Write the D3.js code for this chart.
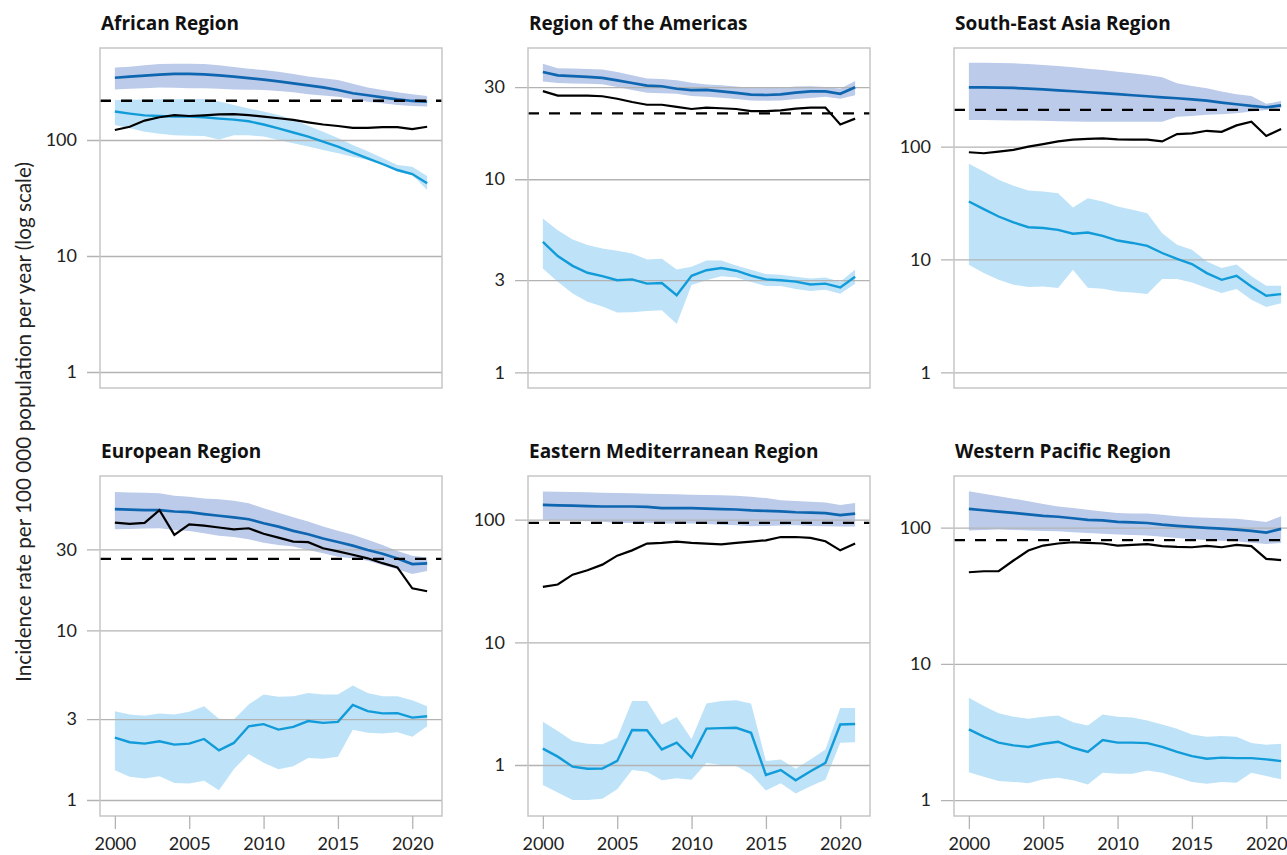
<!DOCTYPE html>
<html>
<head>
<meta charset="utf-8">
<script src="https://d3js.org/d3.v7.min.js"></script>
<style>
body { margin: 0; background: #fff; }
text { font-family: Lato, "Noto Sans", sans-serif; }
text.panel-title { font-family: "Open Sans", "Noto Sans", sans-serif; font-weight: bold; }
</style>
</head>
<body>
<svg id="chart" width="1287" height="855"></svg>
<script>
const years = [2000,2001,2002,2003,2004,2005,2006,2007,2008,2009,2010,2011,2012,2013,2014,2015,2016,2017,2018,2019,2020,2021];

// African Region
const afrInc    = [344,352,359,366,371,371,368,361,352,342,331,320,308,296,284,270,253,243,233,224,217,214];
const afrIncHi  = [421,428,440,452,455,455,452,440,425,412,401,388,370,352,340,329,305,284,270,258,248,239];
const afrIncLo  = [273,276,280,284,282,280,279,276,273,271,270,265,258,248,242,236,226,214,207,200,196,194];
const afrNotif  = [122,130,147,157,164,161,163,166,167,164,159,154,149,142,136,132,127,127,129,129,124,130];
const afrHiv    = [176,169,163,161,159,159,157,153,150,145,136,126,116,107,96.7,87.7,77.8,69.5,62.1,55.1,50.9,42.3];
const afrHivHi  = [221,222,223,224,225,226,226,215,200,187,176,164,150,133,118,104,90.5,80,70,60.9,58.9,49];
const afrHivLo  = [135,126,118,113,110,109,108,101,110,110,107,100,93.6,87.7,82,76.7,71.8,67.2,60.9,53.3,49.9,37.1];
const afrMilestone = 218;

// Region of the Americas
const amrInc    = [35.9,34.5,34.2,33.9,33.5,32.5,31.5,30.5,30.3,29.4,28.9,29.0,28.5,28.0,27.4,27.3,27.5,28.1,28.5,28.5,27.7,29.9];
const amrIncHi  = [39.6,37.6,37.4,37.2,37.0,35.9,34.5,33.2,33.0,32.5,31.6,30.9,30.7,30.2,29.8,29.7,29.8,30.2,30.3,30.0,29.4,32.3];
const amrIncLo  = [32.1,31.5,31.3,31.2,31.0,30.0,29.0,28.0,27.9,27.7,27.0,26.7,26.4,26.0,25.6,25.5,25.6,26.0,26.3,26.7,26.1,27.2];
const amrNotif  = [28.6,27.1,27.1,27.1,26.9,26.1,25.1,24.3,24.3,23.7,23.1,23.5,23.3,23.1,22.5,22.5,22.7,23.2,23.5,23.5,19.2,20.6];
const amrHiv    = [4.74,4.0,3.56,3.28,3.15,3.0,3.03,2.88,2.9,2.51,3.16,3.38,3.47,3.36,3.17,3.03,3.0,2.95,2.85,2.88,2.75,3.13];
const amrHivHi  = [6.27,5.45,4.87,4.56,4.38,4.26,4.13,3.84,3.87,3.41,3.52,3.8,3.8,3.58,3.4,3.23,3.2,3.13,3.06,3.1,2.95,3.41];
const amrHivLo  = [3.45,2.95,2.56,2.32,2.19,2.04,2.05,2.08,2.10,1.78,2.83,3.0,3.15,3.1,2.94,2.8,2.8,2.70,2.64,2.68,2.55,2.88];
const amrMilestone = 21.9;

// South-East Asia Region
const searInc   = [335,335,333,331,326,321,315,309,303,297,291,285,279,273,268,262,255,245,237,229,223,232];
const searIncHi = [553,553,550,546,539,528,518,504,490,477,461,446,431,411,363,344,328,307,291,281,239,253];
const searIncLo = [172,172,171,170,170,169,168,167,166,166,166,166,166,166,184,187,191,193,197,204,211,218];
const searNotif = [89.1,87.3,90.3,93.4,100,105,111,115,117,118,116,115,115,111,129,131,138,135,154,166,124,143];
const searHiv   = [32.6,27.9,24.0,21.3,19.3,19.0,18.3,16.9,17.3,16.2,14.7,14.0,13.2,11.4,10.1,9.1,7.57,6.6,7.17,5.77,4.77,4.93];
const searHivHi = [70.3,60.1,50.7,44.9,40.8,40.0,38.6,28.9,34.9,32.6,29.4,27.5,25.7,17.1,13.5,12.2,9.6,8.4,9.0,7.08,5.85,5.85];
const searHivLo = [8.98,7.57,6.6,5.97,5.69,5.77,5.57,8.1,5.6,5.5,5.2,5.1,4.93,6.7,6.7,6.26,5.57,5.03,5.47,4.4,3.79,4.1];
const searMilestone = 211;

// European Region
const eurInc    = [51.8,51.5,51.2,51.2,50.2,49.8,48.5,47.4,46.4,45.2,42.8,40.9,38.6,36.9,34.8,33.2,31.6,29.8,28.3,26.5,24.6,24.8];
const eurIncHi  = [65.5,65.0,64.7,64.3,62.2,61.3,60.0,59.2,58.2,56.1,52.5,49.4,46.4,43.8,40.9,38.7,36.6,34.2,31.9,29.4,27.5,26.9];
const eurIncLo  = [39.4,39.6,39.8,40.0,39.1,38.6,37.4,36.1,35.5,34.4,32.9,31.9,31.2,29.8,28.5,27.2,26.6,25.7,24.3,22.9,21.5,22.4];
const eurNotif  = [43.2,42.4,43.0,51.2,36.6,42.2,41.5,40.4,39.4,40.0,37.1,35.2,33.4,33.1,30.5,29.2,27.9,26.6,24.9,23.5,17.7,17.0];
const eurHiv    = [2.33,2.19,2.15,2.22,2.12,2.15,2.29,1.96,2.17,2.72,2.80,2.6,2.7,2.92,2.85,2.89,3.64,3.34,3.24,3.25,3.06,3.12];
const eurHivHi  = [3.34,3.19,3.14,3.24,3.19,3.31,3.57,3.01,2.98,3.66,4.19,4.06,4.09,4.27,4.19,4.19,4.74,4.27,4.09,4.09,3.87,3.57];
const eurHivLo  = [1.50,1.37,1.34,1.38,1.26,1.25,1.30,1.14,1.52,1.87,1.66,1.52,1.58,1.77,1.75,1.80,2.6,2.49,2.47,2.51,2.36,2.72];
const eurMilestone = 26.4;

// Eastern Mediterranean Region
const emrInc    = [132,131,130,129,128,128,128,127,124,124,124,123,122,121,119,118,117,115,114,113,109,112];
const emrIncHi  = [170,169,168,167,166,165,164,163,162,161,160,159,158,157,154,150,144,142,140,138,132,137];
const emrIncLo  = [100,99,98,97,96,94,94,94,93,93,93,92,91,90,88.3,89,89.5,90,89,88.5,88,88];
const emrNotif  = [28.3,29.6,35.6,38.7,43.0,50.9,56.2,63.8,64.6,66.2,64.6,63.8,63.0,64.6,66.2,67.9,72.2,72.2,71.0,66.7,56.2,63.8];
const emrHiv    = [1.36,1.17,0.969,0.933,0.935,1.08,1.93,1.92,1.34,1.52,1.15,1.98,2.0,2.01,1.83,0.830,0.91,0.750,0.89,1.04,2.14,2.16];
const emrHivHi  = [2.25,1.89,1.57,1.49,1.48,1.67,3.32,3.32,2.14,2.46,1.63,3.18,3.32,3.38,3.18,1.08,1.11,0.933,1.11,1.34,2.91,2.91];
const emrHivLo  = [0.687,0.596,0.519,0.519,0.530,0.634,0.91,0.88,0.75,0.78,0.76,1.04,1.0,0.98,0.84,0.62,0.71,0.585,0.67,0.76,1.52,1.53];
const emrMilestone = 94;

// Western Pacific Region
const wprInc    = [137,134,131,128,125,122,120,117,114,113,110,109,108,105,103,101,99.4,98.3,96.7,94.5,91.9,97.8];
const wprIncHi  = [185,177,170,163,156,149,143,139,135,131,128,127,127,124,121,119,118,117,116,113,110,121];
const wprIncLo  = [95,96,96.7,96,95,94.5,94,92.5,91.4,90,88.9,88,87.4,85.5,84,82.3,80.7,80,79.4,77.5,75.9,77];
const wprNotif  = [47.0,47.8,47.8,57.3,67.8,73.8,76.4,78.0,77.2,76.4,73.8,74.6,75.5,73.0,72.1,71.7,73.3,71.7,74.6,73.0,58.9,57.6];
const wprHiv    = [3.30,2.92,2.64,2.52,2.45,2.59,2.68,2.42,2.26,2.76,2.64,2.64,2.62,2.46,2.26,2.10,2.01,2.05,2.03,2.03,1.99,1.93];
const wprHivHi  = [5.64,4.90,4.33,4.09,3.95,4.09,4.18,3.73,3.53,4.25,4.08,4.04,3.84,3.59,3.34,3.03,2.92,2.95,2.91,2.62,2.55,2.59];
const wprHivLo  = [1.60,1.48,1.38,1.36,1.33,1.42,1.46,1.40,1.30,1.59,1.56,1.56,1.65,1.59,1.47,1.36,1.32,1.36,1.34,1.59,1.50,1.42];
const wprMilestone = 80.8;

const xTicks = [2000,2005,2010,2015,2020];

const panels = [
  {title:"African Region", inc:afrInc, incHi:afrIncHi, incLo:afrIncLo, notif:afrNotif, hiv:afrHiv, hivHi:afrHivHi, hivLo:afrHivLo, ms:afrMilestone,
   yDomain:[0.728,621], ticks:[1,10,100], col:0, row:0},
  {title:"Region of the Americas", inc:amrInc, incHi:amrIncHi, incLo:amrIncLo, notif:amrNotif, hiv:amrHiv, hivHi:amrHivHi, hivLo:amrHivLo, ms:amrMilestone,
   yDomain:[0.83,47.8], ticks:[1,3,10,30], col:1, row:0},
  {title:"South-East Asia Region", inc:searInc, incHi:searIncHi, incLo:searIncLo, notif:searNotif, hiv:searHiv, hivHi:searHivHi, hivLo:searHivLo, ms:searMilestone,
   yDomain:[0.726,747], ticks:[1,10,100], col:2, row:0},
  {title:"European Region", inc:eurInc, incHi:eurIncHi, incLo:eurIncLo, notif:eurNotif, hiv:eurHiv, hivHi:eurHivHi, hivLo:eurHivLo, ms:eurMilestone,
   yDomain:[0.805,81.3], ticks:[1,3,10,30], col:0, row:1},
  {title:"Eastern Mediterranean Region", inc:emrInc, incHi:emrIncHi, incLo:emrIncLo, notif:emrNotif, hiv:emrHiv, hivHi:emrHivHi, hivLo:emrHivLo, ms:emrMilestone,
   yDomain:[0.384,227], ticks:[1,10,100], col:1, row:1},
  {title:"Western Pacific Region", inc:wprInc, incHi:wprIncHi, incLo:wprIncLo, notif:wprNotif, hiv:wprHiv, hivHi:wprHivHi, hivLo:wprHivLo, ms:wprMilestone,
   yDomain:[0.764,239], ticks:[1,10,100], col:2, row:1}
];

const svg = d3.select("#chart");
const colLeft = [100, 528, 954];
const rowTop = [48, 476];
const pw = 342, ph = 340;

const incColor = "#0f66b0", incBand = "#bccbea";
const hivColor = "#129bd9", hivBand = "#bee3f8";
const gridColor = "#b3b3b3", frameColor = "#c6c6c6";

panels.forEach(p => {
  const g = svg.append("g")
     .attr("transform", "translate(" + colLeft[p.col] + "," + rowTop[p.row] + ")");

  const x = d3.scaleLinear().domain([1999, 2022]).range([0, pw]);
  const y = d3.scaleLog().domain(p.yDomain).range([ph, 0]);

  g.append("text")
   .attr("class", "panel-title")
   .attr("x", 1).attr("y", -18)
   .attr("font-size", 19)
   .attr("fill", "#111")
   .text(p.title);

  const area = (lo, hi) => d3.area()
      .x((d, i) => x(years[i]))
      .y0((d, i) => y(lo[i]))
      .y1((d, i) => y(hi[i]));
  const line = d3.line()
      .x((d, i) => x(years[i]))
      .y(d => y(d));

  g.append("path").datum(p.inc).attr("d", area(p.incLo, p.incHi)).attr("fill", incBand);
  g.append("path").datum(p.hiv).attr("d", area(p.hivLo, p.hivHi)).attr("fill", hivBand);

  // y grid + labels
  const yAxis = g.append("g")
    .call(d3.axisLeft(y).tickValues(p.ticks).tickSize(-pw - 13).tickFormat(d3.format("d")).tickPadding(10))
    .attr("transform", "translate(-13,0)");
  yAxis.select(".domain").remove();
  yAxis.selectAll(".tick line").attr("stroke", gridColor).attr("stroke-width", 1.3);
  yAxis.selectAll(".tick text").attr("font-size", 18).attr("fill", "#222").attr("x", -10);

  g.append("path").datum(p.hiv).attr("d", line).attr("fill", "none")
   .attr("stroke", hivColor).attr("stroke-width", 2.4);
  g.append("path").datum(p.inc).attr("d", line).attr("fill", "none")
   .attr("stroke", incColor).attr("stroke-width", 2.7);
  g.append("path").datum(p.notif).attr("d", line).attr("fill", "none")
   .attr("stroke", "#000").attr("stroke-width", 2.2);

  g.append("line")
   .attr("x1", 0).attr("x2", pw)
   .attr("y1", y(p.ms)).attr("y2", y(p.ms))
   .attr("stroke", "#000").attr("stroke-width", 2.3)
   .attr("stroke-dasharray", "11,10");

  g.append("rect")
   .attr("width", pw).attr("height", ph)
   .attr("fill", "none").attr("stroke", frameColor).attr("stroke-width", 1.5);

  if (p.row === 1) {
    const xAxis = g.append("g")
      .attr("transform", "translate(0," + ph + ")")
      .call(d3.axisBottom(x).tickValues(xTicks).tickSize(13).tickFormat(d3.format("d")).tickPadding(8));
    xAxis.select(".domain").remove();
    xAxis.selectAll(".tick line").attr("stroke", gridColor).attr("stroke-width", 1.3);
    xAxis.selectAll(".tick text").attr("font-size", 18).attr("fill", "#222");
  }
});

svg.append("text")
   .attr("transform", "translate(31,422) rotate(-90)")
   .attr("text-anchor", "middle")
   .attr("font-size", 20.7)
   .attr("fill", "#222")
   .text("Incidence rate per 100 000 population per year (log scale)");
</script>
</body>
</html>
